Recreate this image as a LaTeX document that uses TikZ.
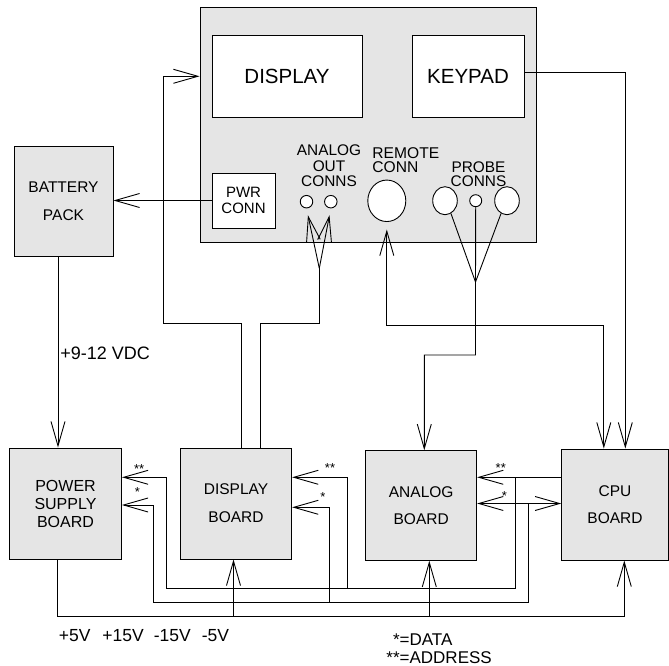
\documentclass[tikz,border=0pt]{standalone}
\usepackage{fontspec}
\setmainfont{Liberation Sans}
\usetikzlibrary{arrows.meta,shapes.geometric}
\definecolor{panelgray}{RGB}{229,229,229}

\begin{document}
\begin{tikzpicture}[x=1pt, y=-1pt, line width=0.9pt,
    box/.style={draw, fill=panelgray, inner sep=0pt, align=center},
    conn/.style={draw, fill=white, inner sep=0pt},
    arr/.style={-{Straight Barb[length=24.5pt, width=14pt]}},
    dbl/.style={{Straight Barb[length=24.5pt, width=14pt]}-{Straight Barb[length=24.5pt, width=14pt]}},
    lbl/.style={inner sep=0pt, align=center},
    star/.style={inner sep=0pt, anchor=base, font=\fontsize{13}{13}\selectfont}]

    \useasboundingbox (0,0) rectangle (669,666);

    % Front panel
    \node[box, minimum width=336pt, minimum height=235pt] (panel) at (368,124.5) {};
    \node[box, fill=white, minimum width=150pt, minimum height=82pt,
          font=\fontsize{20.5}{20.5}\selectfont] (screen) at (287,76.3) {DISPLAY};
    \node[box, fill=white, minimum width=112pt, minimum height=82pt,
          font=\fontsize{20.5}{20.5}\selectfont] (keypad) at (468,76.3) {KEYPAD};
    \node[box, fill=white, minimum width=63pt, minimum height=55pt,
          font=\fontsize{15}{15.3}\selectfont] (pwr) at (243.5,200.5) {PWR\\CONN};

    % Connectors on the panel
    \node[conn, circle, minimum size=12.5pt] (aout1) at (306.5,201.7) {};
    \node[conn, circle, minimum size=12.5pt] (aout2) at (330.8,201.7) {};
    \node[conn, ellipse, minimum width=38pt, minimum height=41.5pt] (remote) at (386.8,200.8) {};
    \node[conn, ellipse, minimum width=24.6pt, minimum height=28pt] (probe1) at (445,200.7) {};
    \node[conn, circle, minimum size=12pt] (probe2) at (475.7,200.7) {};
    \node[conn, ellipse, minimum width=24.6pt, minimum height=28pt] (probe3) at (507,200.7) {};

    \node[lbl, font=\fontsize{15.4}{15.4}\selectfont] (aoutlbl) at (329,166) {ANALOG\\OUT\\CONNS};
    \node[lbl, align=left, anchor=west, font=\fontsize{15.6}{14}\selectfont] (remlbl) at (372,160) {REMOTE\\CONN};
    \node[lbl, font=\fontsize{15.4}{14.3}\selectfont] (problbl) at (478.5,174.5) {PROBE\\CONNS};

    % Battery and boards
    \node[box, minimum width=99pt, minimum height=110pt,
          font=\fontsize{15.5}{28.4}\selectfont] (battery) at (63.5,201) {BATTERY\\PACK};
    \node[box, minimum width=112pt, minimum height=111pt,
          font=\fontsize{16}{18}\selectfont] (psu) at (65.5,503.5) {POWER\\SUPPLY\\BOARD};
    \node[box, minimum width=111.4pt, minimum height=111pt,
          font=\fontsize{15.5}{27.7}\selectfont] (dispb) at (236,503.5) {DISPLAY\\BOARD};
    \node[box, minimum width=111pt, minimum height=109.6pt,
          font=\fontsize{15.5}{27.5}\selectfont] (analog) at (421.2,505.5) {ANALOG\\BOARD};
    \node[box, minimum width=106.6pt, minimum height=111pt,
          font=\fontsize{15.5}{27.5}\selectfont] (cpu) at (615,504.5) {CPU\\BOARD};

    % Panel wiring
    \draw[arr] (pwr.west) -- (pwr.west -| battery.east);
    \draw[arr] ([xshift=5.5pt]dispb.north) |- (163,323) |- (screen.west -| panel.west);
    \coordinate (aoj) at (319.3,268.3);
    \draw ([xshift=24.2pt]dispb.north) |- (319.3,323) -- (aoj);
    \draw[arr, shorten >=7pt] (aoj) -- (aout1.south);
    \draw[arr, shorten >=7pt] (aoj) -- (aout2.south);
    \draw[dbl, shorten <=7.5pt] (remote.south) |- (603.8,325) -- ([xshift=-11.2pt]cpu.north);
    \draw[arr] ([yshift=4pt]keypad.east) -| ([xshift=10.3pt]cpu.north);
    \coordinate (pj) at (475.5,282);
    \draw (probe1.-65) -- (pj) -- (probe3.-115);
    \draw[arr] (probe2.south) -- (pj) |- (424.3,355) -- ([xshift=3.1pt]analog.north);

    % Battery supply
    \draw[arr] ([xshift=-5.5pt]battery.south) -- ([xshift=-5.5pt]battery.south |- psu.north);
    \node[lbl, anchor=west, font=\fontsize{18}{18}\selectfont] (vdc) at (60,353) {+9-12 VDC};

    % Address bus
    \coordinate (addr) at (0,477.3);
    \draw[arr] (cpu.west |- addr) -- (analog.east |- addr);
    \draw[arr] (515.5,477.3) |- (166,588.3) -- (166,477.3) -- (psu.east |- addr);
    \draw[arr] (347.5,588.3) |- (dispb.east |- addr);

    % Data bus
    \coordinate (data) at (0,503.5);
    \draw[dbl] (analog.east |- data) -- (cpu.west |- data);
    \draw[arr] (528.5,503.5) |- (153.3,602.3) |- (psu.east |- 0,505);
    \draw[arr] (329.3,602.3) |- (dispb.east |- 0,507.3);

    % Supply bus
    \draw[arr] ([xshift=-7.8pt]psu.south) |- (624.3,616) -- ([xshift=9.3pt]cpu.south);
    \draw[arr] (233.5,616) -- ([xshift=-2.5pt]dispb.south);
    \draw[arr] (429.3,616) -- ([xshift=8.1pt]analog.south);

    % Bus marks
    \node[star] (psua) at (139.2,473) {**};
    \node[star] (psud) at (137.5,496.3) {*};
    \node[star] (dispa) at (330,472.5) {**};
    \node[star] (dispd) at (323,501) {*};
    \node[star] (anaa) at (500.8,472.2) {**};
    \node[star] (anad) at (504.5,500.5) {*};

    % Legends
    \node[lbl, anchor=west, font=\fontsize{17.5}{17.5}\selectfont] (volts) at (58.4,635.5)
        {+5V\hspace{12pt}+15V\hspace{10pt}-15V\hspace{11pt}-5V};
    \node[lbl, anchor=base west, font=\fontsize{17}{18}\selectfont] (legend) at (386,645.5)
        {\begin{tabular}[t]{@{}r@{}l@{}}*&=DATA\\ {**}&=ADDRESS\end{tabular}};
\end{tikzpicture}
\end{document}
